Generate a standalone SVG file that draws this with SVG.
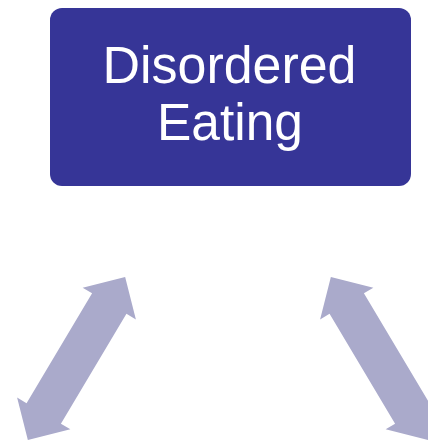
<svg xmlns="http://www.w3.org/2000/svg" width="428" height="442" viewBox="0 0 428 442">
<style>
.box{fill:#363597;}
.lbl{fill:#ffffff;font-family:"Liberation Sans",Arial,sans-serif;font-size:51px;text-anchor:middle;}
.arr{fill:#aaaacb;}
</style>
<defs>
<polygon id="dbl" points="95,0 64,-31 64,-20 -64,-20 -64,-31 -95,0 -64,31 -64,20 64,20 64,31"/>
</defs>
<rect width="428" height="442" fill="#ffffff"/>
<g id="node-disordered-eating">
<rect class="box" x="50" y="8" width="361" height="178" rx="12" ry="12"/>
<text class="lbl" x="229.5" y="83" textLength="254" lengthAdjust="spacingAndGlyphs">Disordered</text>
<text class="lbl" x="230" y="140" textLength="146" lengthAdjust="spacingAndGlyphs">Eating</text>
</g>
<g id="connectors">
<use href="#dbl" class="arr" transform="translate(76.5,358.5) rotate(-59.2)"/>
<use href="#dbl" class="arr" transform="translate(379.5,358.5) rotate(-120.8)"/>
</g>
</svg>
